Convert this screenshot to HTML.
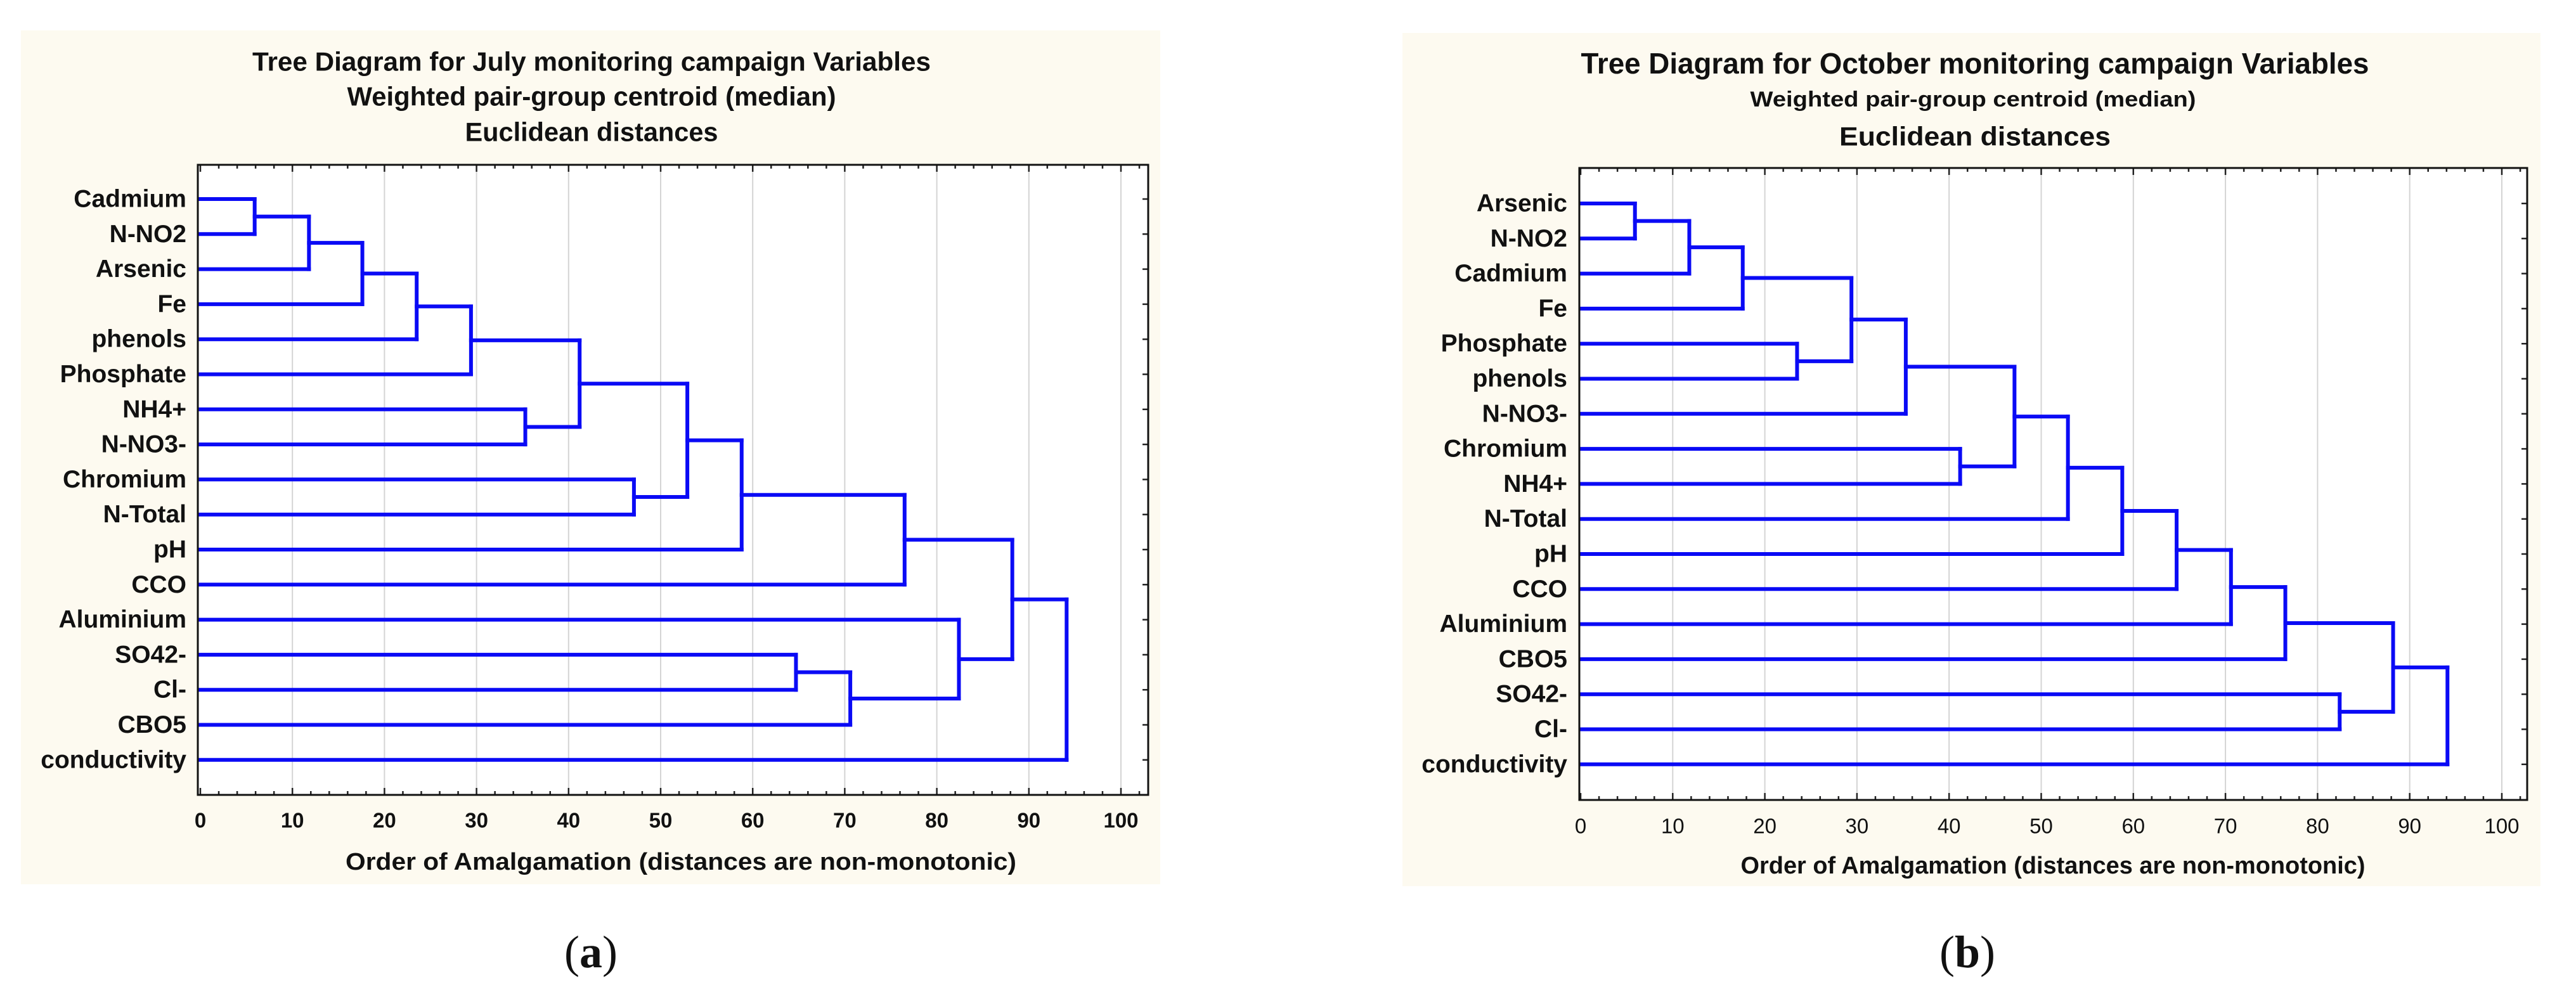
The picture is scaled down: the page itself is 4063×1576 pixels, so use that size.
<!DOCTYPE html>
<html><head><meta charset="utf-8">
<style>
html,body{margin:0;padding:0;background:#fff;}
svg{display:block;}
text{font-family:"Liberation Sans",Arial,sans-serif;}
</style></head>
<body>
<svg id="fig" width="4063" height="1576" viewBox="0 0 4063 1576" xmlns="http://www.w3.org/2000/svg">
  <rect x="0" y="0" width="4063" height="1576" fill="#ffffff"/>
</svg>
<script>
// ---- Panel A data (July) ----
const labelsA = ["Cadmium","N-NO2","Arsenic","Fe","phenols","Phosphate","NH4+","N-NO3-","Chromium","N-Total","pH","CCO","Aluminium","SO42-","Cl-","CBO5","conductivity"];
const mergeLeftA  = [0,17,18,19,20,6,21,8,23,25,26,13,28,12,27,31];
const mergeRightA = [1,2,3,4,5,7,22,9,24,10,11,14,15,29,30,16];
const mergeDistA  = [5.9,11.8,17.6,23.5,29.4,35.3,41.2,47.1,52.9,58.8,76.5,64.7,70.6,82.4,88.2,94.1];
// ---- Panel B data (October) ----
const labelsB = ["Arsenic","N-NO2","Cadmium","Fe","Phosphate","phenols","N-NO3-","Chromium","NH4+","N-Total","pH","CCO","Aluminium","CBO5","SO42-","Cl-","conductivity"];
const mergeLeftB  = [0,17,18,4,19,21,7,22,24,25,26,27,28,14,29,31];
const mergeRightB = [1,2,3,5,20,6,8,23,9,10,11,12,13,15,30,16];
const mergeDistB  = [5.9,11.8,17.6,23.5,29.4,35.3,41.2,47.1,52.9,58.8,64.7,70.6,76.5,82.4,88.2,94.1];
// ---- Axis ----
const tickValues = [0,10,20,30,40,50,60,70,80,90,100];
const tickLabels = ["0","10","20","30","40","50","60","70","80","90","100"];

const NS = "http://www.w3.org/2000/svg";
const svg = document.getElementById("fig");
function mk(tag, attrs, parent){
  const e = document.createElementNS(NS, tag);
  for (const k in attrs) e.setAttribute(k, attrs[k]);
  (parent||svg).appendChild(e);
  return e;
}

function panel(cfg){
  const g = mk("g", {});
  
  
  const bg = mk("rect", {x:cfg.bx, y:cfg.by, width:cfg.bw, height:cfg.bh, fill:"#fdfaf0"}, g);
  
  
  const pl = mk("rect", {x:cfg.px0, y:cfg.py0, width:cfg.px1-cfg.px0, height:cfg.py1-cfg.py0, fill:"#ffffff"}, g);
  
  
  const xs = v => cfg.x0 + v*cfg.ppu;
  const ys = i => cfg.y0 + i*cfg.rowH;
  tickValues.forEach(v=>{
    if (v===0) return;
    const l = mk("line", {x1:xs(v), x2:xs(v), y1:cfg.py0, y2:cfg.py1, stroke:"#d4d4d4", "stroke-width":2}, g);
    
    
  });
  for (let v=0; v<=102; v+=2){
    const len = (v%10===0)?11:6;
    const t1 = mk("line", {x1:xs(v), x2:xs(v), y1:cfg.py1, y2:cfg.py1-len, stroke:"#222", "stroke-width":2.5}, g);
    
    
    const t2 = mk("line", {x1:xs(v), x2:xs(v), y1:cfg.py0, y2:cfg.py0+len, stroke:"#222", "stroke-width":2.5}, g);
    
    
  }
  tickValues.forEach((v,i)=>{
    const t = mk("text", {x:xs(v), y:cfg.tickY, "font-size":cfg.tickFs, "font-weight":cfg.tickW, "text-anchor":"middle", "dominant-baseline":"central", fill:"#111"}, g);
    t.textContent = tickLabels[i];
    
    
  });
  cfg.labels.forEach((lab,i)=>{
    const r = mk("line", {x1:cfg.px1, x2:cfg.px1-9, y1:ys(i), y2:ys(i), stroke:"#222", "stroke-width":2.5}, g);
    
    
    const t = mk("text", {x:cfg.labX, y:ys(i), "font-size":cfg.labFs, "font-weight":"bold", "text-anchor":"end", "dominant-baseline":"central", fill:"#111"}, g);
    t.textContent = lab;
    
    
  });
  const n = cfg.labels.length;
  const nodeY = [], nodeX = [];
  for (let i=0;i<n;i++){ nodeY.push(ys(i)); nodeX.push(0); }
  const blue = "#0a0af5";
  cfg.left.forEach((a,k)=>{
    const b = cfg.right[k];
    const d = cfg.dist[k];
    [a,b].forEach(c=>{
      const h = mk("line", {x1:xs(nodeX[c]), x2:xs(d), y1:nodeY[c], y2:nodeY[c], stroke:blue, "stroke-width":6, "stroke-linecap":"square"}, g);
      
      
    });
    const v = mk("line", {x1:xs(d), x2:xs(d), y1:nodeY[a], y2:nodeY[b], stroke:blue, "stroke-width":6, "stroke-linecap":"square"}, g);
    
    
    nodeY.push((nodeY[a]+nodeY[b])/2);
    nodeX.push(d);
  });
  const br = mk("rect", {x:cfg.px0, y:cfg.py0, width:cfg.px1-cfg.px0, height:cfg.py1-cfg.py0, fill:"none", stroke:"#111", "stroke-width":3}, g);
  
  
  cfg.titles.forEach(tt=>{
    const t = mk("text", {x:tt.x, y:tt.y, "font-size":tt.fs, "font-weight":"bold", "text-anchor":"middle", "dominant-baseline":"central", textLength:tt.w, lengthAdjust:"spacingAndGlyphs", fill:"#111"}, g);
    t.textContent = tt.t;
    
    
  });
  const at = mk("text", {x:cfg.axX, y:cfg.axY, "font-size":38, "font-weight":"bold", "text-anchor":"middle", "dominant-baseline":"central", textLength:cfg.axW, lengthAdjust:"spacingAndGlyphs", fill:"#111"}, g);
  at.textContent = "Order of Amalgamation (distances are non-monotonic)";
  
  
  const cap = mk("text", {x:cfg.capX, y:1502, "font-size":72, "text-anchor":"middle", "dominant-baseline":"central", fill:"#111", style:"font-family:'Liberation Serif',serif"}, g);
  cap.innerHTML = '(<tspan font-weight="bold">'+cfg.cap+'</tspan>)';
  
  
}

panel({name:"panel-a-july", bx:33, by:48, bw:1797, bh:1347,
  px0:312, py0:260, px1:1811, py1:1254, x0:316, ppu:14.52, y0:314, rowH:55.3,
  labels:labelsA, left:mergeLeftA, right:mergeRightA, dist:mergeDistA, labX:294, labFs:39,
  tickY:1294, tickFs:33, tickW:"bold",
  titles:[{t:"Tree Diagram for July  monitoring campaign Variables", x:933, y:97, fs:42, w:1070},
          {t:"Weighted pair-group centroid (median)", x:933, y:152, fs:42, w:771},
          {t:"Euclidean distances", x:933, y:208, fs:42, w:399}],
  axX:1074, axY:1360, axW:1058, capX:932, cap:"a"});

panel({name:"panel-b-october", bx:2212, by:52, bw:1795, bh:1346,
  px0:2491, py0:265, px1:3986, py1:1262, x0:2493, ppu:14.53, y0:321, rowH:55.3,
  labels:labelsB, left:mergeLeftB, right:mergeRightB, dist:mergeDistB, labX:2472, labFs:39,
  tickY:1303, tickFs:33, tickW:"normal",
  titles:[{t:"Tree Diagram for October monitoring campaign  Variables", x:3115, y:100, fs:46, w:1243},
          {t:"Weighted pair-group centroid (median)", x:3112, y:157, fs:34, w:703},
          {t:"Euclidean distances", x:3115, y:215, fs:42, w:428}],
  axX:3238, axY:1366, axW:985, capX:3103, cap:"b"});
</script>
</body></html>
